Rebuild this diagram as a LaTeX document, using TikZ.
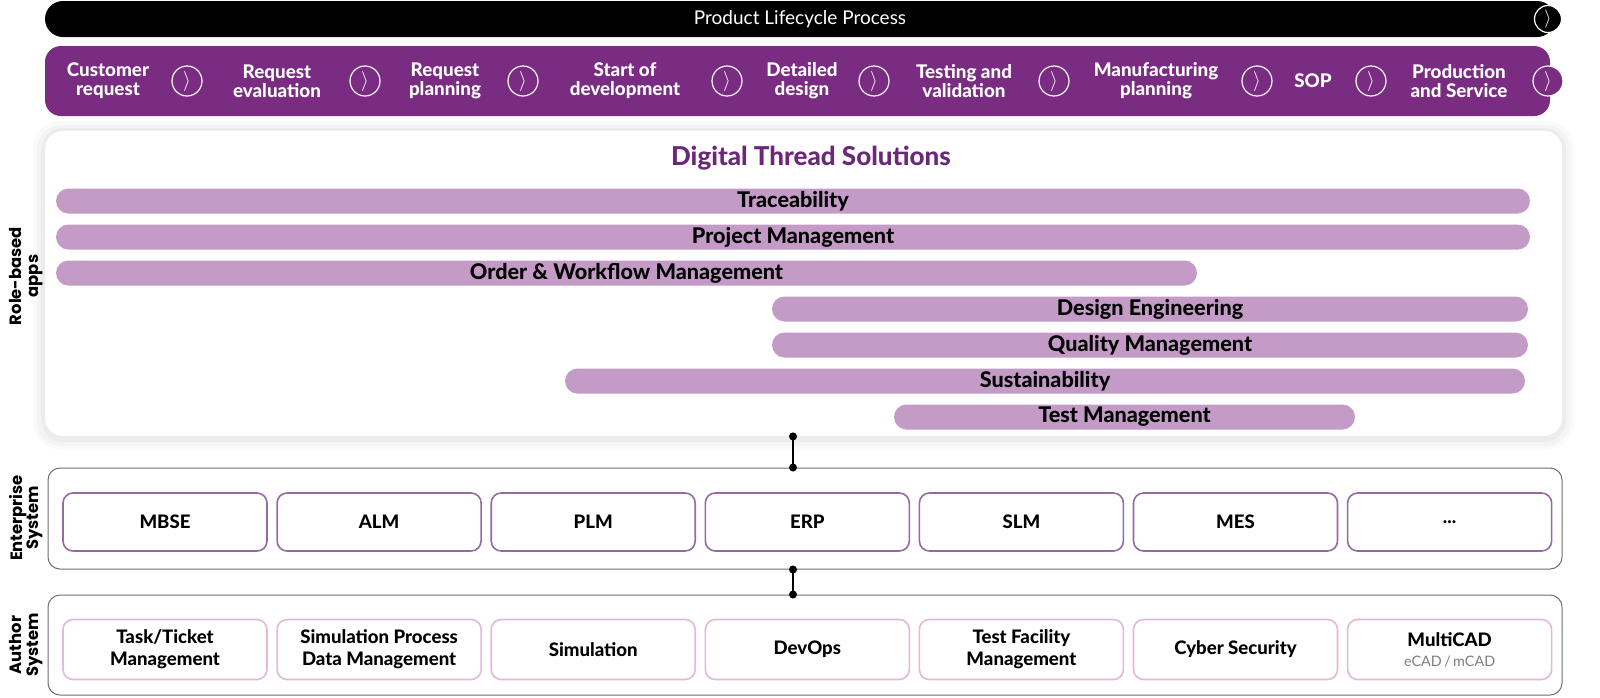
\documentclass[tikz,border=0pt]{standalone}
\usepackage{fontspec}
\setmainfont{Lato}[BoldFont={Lato Heavy}]
\newfontfamily\sidefont{Poppins}
\usepackage{tikz}
\usetikzlibrary{positioning}

\definecolor{plumdark}{RGB}{122,43,130}
\definecolor{plumtitle}{RGB}{108,40,120}
\definecolor{plumbar}{RGB}{196,155,199}
\definecolor{plumedge}{RGB}{150,105,160}
\definecolor{pinkedge}{RGB}{228,184,216}
\definecolor{frameline}{RGB}{110,110,110}

\tikzset{
  chev/.style={circle, draw=white, line width=0.6pt, minimum size=15pt, inner sep=0pt, text=white, font=\fontsize{10pt}{10pt}\selectfont},
  stage/.style={text=white, align=center, font=\bfseries\fontsize{9.4pt}{9.4pt}\selectfont},
  appbar/.style={fill=plumbar, rounded corners=6.25pt, minimum height=12.5pt, inner sep=0pt, font=\bfseries\fontsize{10.8pt}{11pt}\selectfont},
  tier/.style={draw=frameline, line width=0.5pt, rounded corners=6pt, fill=white, inner sep=0pt},
  entbox/.style={draw=plumedge, line width=0.8pt, rounded corners=5pt, minimum width=102pt, minimum height=29pt, inner sep=0pt, align=center, font=\bfseries\fontsize{9.3pt}{11pt}\selectfont},
  authbox/.style={entbox, draw=pinkedge, minimum height=30pt},
  sidelabel/.style={rotate=90, align=center, font=\sidefont\bfseries\fontsize{8.2pt}{8.2pt}\selectfont},
  joint/.style={circle, fill=black, inner sep=0pt, minimum size=4pt},
}

\begin{document}
\begin{tikzpicture}[x=0.5pt,y=-0.5pt]
            \useasboundingbox (0,0) rectangle (1600,697);
            % panel shadow
            \fill[black, opacity=0.02, rounded corners=14pt] (33,121) rectangle (1574,450);
            \fill[black, opacity=0.025, rounded corners=12pt] (37,125) rectangle (1570,446);
            \fill[black, opacity=0.03, rounded corners=11pt] (41,128) rectangle (1566,442);
            \node[fill=white, rounded corners=9pt, minimum width=758.5pt, minimum height=152.5pt] (panel) at (803.5,283.5) {};

            \node[fill=black, text=white, rounded corners=9pt, minimum width=755pt, minimum height=18pt, font=\fontsize{9.5pt}{10pt}\selectfont] (plc) at (800,19) {Product Lifecycle Process};
            \node[chev, fill=black, minimum size=13.5pt, font=\fontsize{9pt}{9pt}\selectfont] (plcend) at (1548,19) {$\rangle$};

            \node[fill=plumdark, rounded corners=8pt, minimum width=752.5pt, minimum height=35pt] (phases) at (797.5,81) {};
            \node[stage] (custreq) at (108,81) {Customer\\request};
            \node[chev] (c1) at (187,81) {$\rangle$};
            \node[stage] (reqeval) at (277,81) {Request\\evaluation};
            \node[chev] (c2) at (365,81) {$\rangle$};
            \node[stage] (reqplan) at (445,81) {Request\\planning};
            \node[chev] (c3) at (523,81) {$\rangle$};
            \node[stage] (startdev) at (625,81) {Start of\\development};
            \node[chev] (c4) at (727,81) {$\rangle$};
            \node[stage] (detdes) at (802,81) {Detailed\\design};
            \node[chev] (c5) at (874,81) {$\rangle$};
            \node[stage] (testval) at (964,81) {Testing and\\validation};
            \node[chev] (c6) at (1054,81) {$\rangle$};
            \node[stage] (mfgplan) at (1156,81) {Manufacturing\\planning};
            \node[chev] (c7) at (1257,81) {$\rangle$};
            \node[stage] (sop) at (1313,81) {SOP};
            \node[chev] (c8) at (1371,81) {$\rangle$};
            \node[stage] (prodserv) at (1459,81) {Production\\and Service};
            \node[chev, fill=plumdark] (c9) at (1548,81) {$\rangle$};

            \node[text=plumtitle, font=\bfseries\fontsize{13pt}{13pt}\selectfont] (title) at (811,158) {Digital Thread Solutions};
            \node[appbar, minimum width=737pt] (trace) at (793,201) {Traceability};
            \node[appbar, minimum width=737pt] (projmgmt) at (793,237) {Project Management};
            \node[appbar, minimum width=570.5pt] (ordermgmt) at (626.5,273) {Order \& Workflow Management};
            \node[appbar, minimum width=378pt] (design) at (1150,309) {Design Engineering};
            \node[appbar, minimum width=378pt] (quality) at (1150,345) {Quality Management};
            \node[appbar, minimum width=480pt] (sustain) at (1045,381) {Sustainability};
            \node[appbar, minimum width=230.5pt] (testmgmt) at (1124.5,417) {Test Management};
            \node[sidelabel] (rolelbl) at (26,276) {Role-based\\apps};

            \node[tier, minimum width=757pt, minimum height=50.5pt] (ent) at (805,518.5) {};
            \node[sidelabel] (entlbl) at (26,518) {Enterprise\\System};
            \node[entbox] (mbse) at (165,522) {MBSE};
            \node[entbox, right=4.25pt of mbse] (alm) {ALM};
            \node[entbox, right=4.25pt of alm] (plm) {PLM};
            \node[entbox, right=4.25pt of plm] (erp) {ERP};
            \node[entbox, right=4.25pt of erp] (slm) {SLM};
            \node[entbox, right=4.25pt of slm] (mes) {MES};
            \node[entbox, right=4.25pt of mes] (more) {...};

            \node[tier, minimum width=757pt, minimum height=50pt] (auth) at (805,645) {};
            \node[sidelabel] (authlbl) at (26,645) {Author\\System};
            \node[authbox] (ticket) at (165,649.5) {Task/Ticket\\Management};
            \node[authbox, right=4.25pt of ticket] (spdm) {Simulation Process\\Data Management};
            \node[authbox, right=4.25pt of spdm] (sim) {Simulation};
            \node[authbox, right=4.25pt of sim] (devops) {DevOps};
            \node[authbox, right=4.25pt of devops] (testfac) {Test Facility\\Management};
            \node[authbox, right=4.25pt of testfac] (cyber) {Cyber Security};
            \node[authbox, right=4.25pt of cyber] (multicad) {MultiCAD\\[-1pt]{\normalfont\fontsize{7.2pt}{7.5pt}\selectfont\color{gray}eCAD\,/\,mCAD}};

            \coordinate (link) at (793,0);
            \draw[line width=0.6pt] (panel.south -| link) node[joint] {} -- (ent.north -| link) node[joint] {};
            \draw[line width=0.6pt] (ent.south -| link) node[joint] {} -- (auth.north -| link) node[joint] {};
        \end{tikzpicture}
\end{document}
